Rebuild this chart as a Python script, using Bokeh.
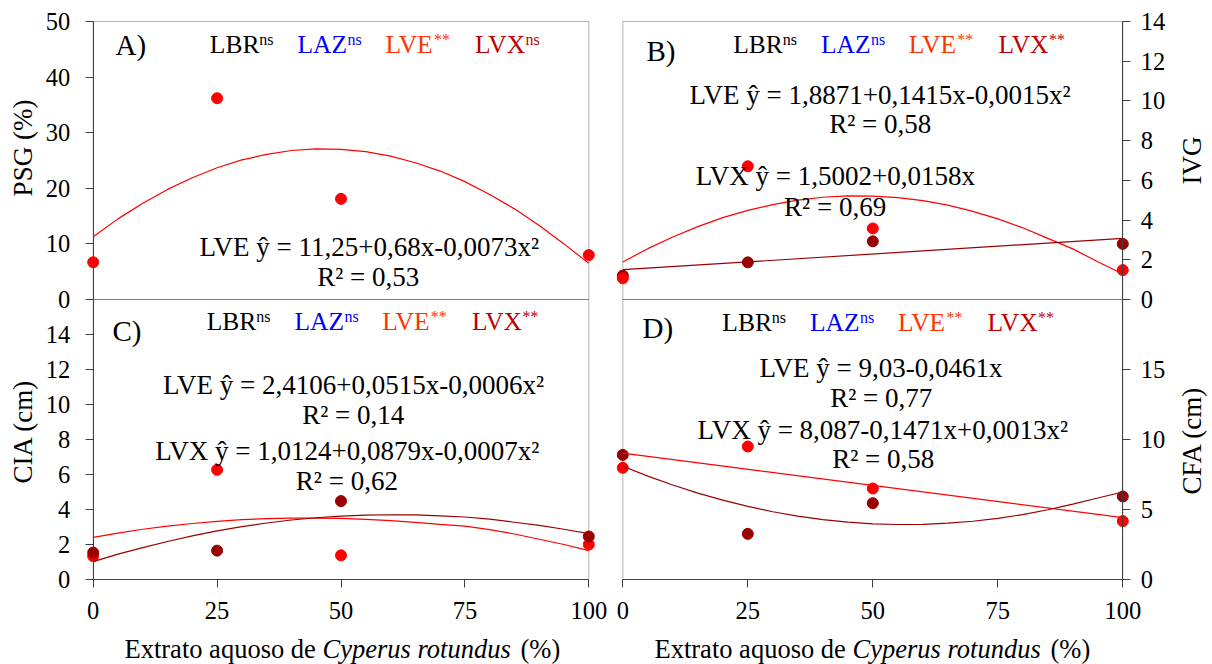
from bokeh.plotting import figure
from bokeh.layouts import row
from bokeh.models import Range1d, FixedTicker, Label, LinearAxis, BoxAnnotation
from bokeh.embed import file_html
from bokeh.resources import INLINE

# ---------------- data ----------------
x_pts = [0, 25, 50, 100]
x_fit = [0, 5, 10, 15, 20, 25, 30, 35, 40, 45, 50, 55, 60, 65, 70, 75, 80, 85, 90, 95, 100]
x_lin = [0, 100]
x_ticks = [0, 25, 50, 75, 100]

# A) PSG (%)
psg_lve = [6.7, 36.2, 18.1, 8.0]
psg_lve_fit = [11.3, 14.5, 17.3, 19.8, 21.9, 23.7, 25.1, 26.1, 26.8, 27.1, 27.0,
               26.6, 25.8, 24.6, 23.1, 21.2, 18.9, 16.3, 13.3, 10.0, 6.5]
psg_ticks = [0, 10, 20, 30, 40, 50]

# B) IVG
ivg_lve = [1.07, 6.71, 3.58, 1.48]
ivg_lvx = [1.20, 1.87, 2.93, 2.80]
ivg_lve_fit = [1.89, 2.56, 3.15, 3.67, 4.12, 4.49, 4.78, 5.00, 5.15, 5.22, 5.21,
               5.13, 4.98, 4.75, 4.44, 4.06, 3.61, 3.08, 2.55, 1.90, 1.28]
ivg_lvx_fit = [1.50, 3.08]
ivg_ticks = [0, 2, 4, 6, 8, 10, 12, 14]

# C) CIA (cm)
cia_lve = [1.33, 6.27, 1.38, 2.00]
cia_lvx = [1.54, 1.65, 4.48, 2.46]
cia_lve_fit = [2.41, 2.65, 2.87, 3.05, 3.20, 3.32, 3.42, 3.48, 3.51, 3.51, 3.49,
               3.44, 3.36, 3.26, 3.15, 3.05, 2.85, 2.60, 2.30, 2.00, 1.65]
cia_lvx_fit = [1.02, 1.45, 1.82, 2.17, 2.49, 2.78, 3.02, 3.23, 3.40, 3.53, 3.62,
               3.68, 3.70, 3.69, 3.64, 3.57, 3.45, 3.27, 3.09, 2.87, 2.62]
cia_ticks = [0, 2, 4, 6, 8, 10, 12, 14]

# D) CFA (cm)
cfa_lve = [7.98, 9.50, 6.50, 4.17]
cfa_lvx = [8.90, 3.26, 5.45, 5.93]
cfa_lve_fit = [9.03, 4.42]
cfa_lvx_fit = [8.09, 7.38, 6.75, 6.17, 5.67, 5.22, 4.84, 4.53, 4.28, 4.10, 3.98,
               3.93, 3.94, 4.02, 4.16, 4.37, 4.64, 4.98, 5.38, 5.82, 6.25]
cfa_ticks = [0, 5, 10, 15]

soils = ["LBR", "LAZ", "LVE", "LVX"]
sig_A = ["ns", "ns", "**", "ns"]
sig_B = ["ns", "ns", "**", "**"]
sig_C = ["ns", "ns", "**", "**"]
sig_D = ["ns", "ns", "**", "**"]

eq_A = ["LVE ŷ = 11,25+0,68x-0,0073x²", "R² = 0,53"]
eq_B = ["LVE ŷ = 1,8871+0,1415x-0,0015x²", "R² = 0,58",
        "LVX ŷ = 1,5002+0,0158x", "R² = 0,69"]
eq_C = ["LVE ŷ = 2,4106+0,0515x-0,0006x²", "R² = 0,14",
        "LVX ŷ = 1,0124+0,0879x-0,0007x²", "R² = 0,62"]
eq_D = ["LVE ŷ = 9,03-0,0461x", "R² = 0,77",
        "LVX ŷ = 8,087-0,1471x+0,0013x²", "R² = 0,58"]

x_title = ["Extrato aquoso de", "Cyperus rotundus", "(%)"]

# ---------------- style / layout ----------------
FONT = "Liberation Serif"
SOIL_COLORS = ["#000000", "#0000FF", "#FF3300", "#C00000"]
LVE_C = "#FF0000"
LVX_C = "#990000"
AX_C = "#404040"

H = 664
W1, W2 = 609, 603
COL2_LEFT = W1


def rng(v0, p0, v1, p1, c0, c1):
    """Range whose values v0, v1 fall at page pixels p0, p1; canvas spans c0..c1."""
    k = (p1 - p0) / (v1 - v0)
    return Range1d(start=v0 + (c0 - p0) / k, end=v0 + (c1 - p0) / k)


def style_axis(ax, standoff):
    ax.axis_line_color = AX_C
    ax.axis_line_width = 1
    ax.major_tick_line_color = AX_C
    ax.major_tick_out = 8
    ax.major_tick_in = 0
    ax.minor_tick_line_color = None
    ax.major_label_text_font = FONT
    ax.major_label_text_font_size = "24.5px"
    ax.major_label_text_color = "black"
    ax.major_label_standoff = standoff


def make_column(width, x_range, y_range, extra):
    p = figure(width=width, height=H, x_range=x_range, y_range=y_range,
               output_backend="svg", toolbar_location=None,
               x_axis_location=None, y_axis_location=None,
               min_border_left=0, min_border_right=0,
               min_border_top=0, min_border_bottom=0)
    p.grid.visible = False
    p.outline_line_color = None
    p.extra_y_ranges = extra
    ax = LinearAxis(fixed_location=0, bounds=(0, 100), ticker=FixedTicker(ticks=x_ticks))
    style_axis(ax, 14)
    p.add_layout(ax, "below")
    return p


def add_y_axis(p, rname, ticks, top, side, loc):
    kw = {} if rname == "default" else {"y_range_name": rname}
    ax = LinearAxis(fixed_location=loc, bounds=(0, top),
                    ticker=FixedTicker(ticks=ticks), **kw)
    style_axis(ax, 15 if side == "left" else 10)
    p.add_layout(ax, side)
    p.add_layout(BoxAnnotation(left=0, right=100, bottom=0, top=top,
                               fill_color=None, line_color="black",
                               line_width=1, level="underlay", **kw))


def put(p, left, px, py, text, size, color="black", align="left",
        style="normal", angle=0, baseline="alphabetic"):
    if baseline == "alphabetic":
        py = py - 0.33 * size   # bokeh places the box slightly low for alphabetic
    p.add_layout(Label(x=px - left, y=H - py,
                       x_units="screen", y_units="screen", text=text,
                       text_font=FONT, text_font_size=f"{size}px", text_color=color,
                       text_align=align, text_baseline=baseline,
                       text_font_style=style, angle=angle, angle_units="deg"))


def legend(p, left, x0, base, sig):
    item_off = [0, 87.7, 175.6, 265.2]
    sup_off = [49.5, 50, 48.5, 50.5]
    for i, name in enumerate(soils):
        put(p, left, x0 + item_off[i], base, name, 25.5, SOIL_COLORS[i])
        put(p, left, x0 + item_off[i] + sup_off[i], base - 8, sig[i], 16, SOIL_COLORS[i])


def x_axis_title(p, left, x0):
    put(p, left, x0, 657, x_title[0], 26.5)
    put(p, left, x0 + 198, 657, x_title[1], 26.5, style="italic")
    put(p, left, x0 + 396, 657, x_title[2], 26.5)


# ---------------- left column: A (top) and C (bottom) ----------------
L1 = 0
p1 = make_column(W1, rng(0, 92.7, 100, 588.3, 0, W1),
                 rng(0, 579, 16, 299, H, 0),
                 {"A": rng(0, 299, 50, 21, H, 0)})
add_y_axis(p1, "A", psg_ticks, 50, "left", 0)
add_y_axis(p1, "default", cia_ticks, 16, "left", 0)

p1.scatter(x_pts, psg_lve, y_range_name="A", size=11, fill_color=LVE_C, line_color=LVE_C)
p1.line(x_fit, psg_lve_fit, y_range_name="A", line_color=LVE_C, line_width=1.2)

p1.scatter(x_pts, cia_lve, size=11, fill_color=LVE_C, line_color=LVE_C)
p1.scatter(x_pts, cia_lvx, size=11, fill_color=LVX_C, line_color=LVX_C)
p1.line(x_fit, cia_lve_fit, line_color=LVE_C, line_width=1.2)
p1.line(x_fit, cia_lvx_fit, line_color=LVX_C, line_width=1.2)

put(p1, L1, 115, 53.7, "A)", 29)
put(p1, L1, 112, 340.4, "C)", 29)
legend(p1, L1, 209.3, 52, sig_A)
legend(p1, L1, 206.2, 329, sig_C)
put(p1, L1, 368.7, 255, eq_A[0], 27, align="center")
put(p1, L1, 367.7, 285, eq_A[1], 27, align="center")
put(p1, L1, 353.0, 393.3, eq_C[0], 27, align="center")
put(p1, L1, 352.7, 423.3, eq_C[1], 27, align="center")
put(p1, L1, 346.7, 459.3, eq_C[2], 27, align="center")
put(p1, L1, 346.4, 489.0, eq_C[3], 27, align="center")
put(p1, L1, 22.4, 147.5, "PSG (%)", 27, align="center", angle=90, baseline="middle")
put(p1, L1, 22.4, 430.8, "CIA (cm)", 27, align="center", angle=90, baseline="middle")
x_axis_title(p1, L1, 124)

# ---------------- right column: B (top) and D (bottom) ----------------
L2 = COL2_LEFT
p2 = make_column(W2, rng(0, 622.3, 100, 1122.3, L2, L2 + W2),
                 rng(0, 579, 20, 299, H, 0),
                 {"B": rng(0, 299, 14, 21, H, 0)})
add_y_axis(p2, "B", ivg_ticks, 14, "right", 100)
add_y_axis(p2, "default", cfa_ticks, 20, "right", 100)

p2.scatter(x_pts, ivg_lvx, y_range_name="B", size=11, fill_color=LVX_C, line_color=LVX_C)
p2.scatter(x_pts, ivg_lve, y_range_name="B", size=11, fill_color=LVE_C, line_color=LVE_C)
p2.line(x_fit, ivg_lve_fit, y_range_name="B", line_color=LVE_C, line_width=1.2)
p2.line(x_lin, ivg_lvx_fit, y_range_name="B", line_color=LVX_C, line_width=1.2)

p2.scatter(x_pts, cfa_lvx, size=11, fill_color=LVX_C, line_color=LVX_C)
p2.scatter(x_pts, cfa_lve, size=11, fill_color=LVE_C, line_color=LVE_C)
p2.line(x_lin, cfa_lve_fit, line_color=LVE_C, line_width=1.2)
p2.line(x_fit, cfa_lvx_fit, line_color=LVX_C, line_width=1.2)

put(p2, L2, 646, 60.4, "B)", 29)
put(p2, L2, 642, 337, "D)", 29)
legend(p2, L2, 732.7, 52, sig_B)
legend(p2, L2, 721.8, 330, sig_D)
put(p2, L2, 879.5, 103.0, eq_B[0], 27, align="center")
put(p2, L2, 879.7, 132.7, eq_B[1], 27, align="center")
put(p2, L2, 834.8, 184.3, eq_B[2], 27, align="center")
put(p2, L2, 834.6, 215.0, eq_B[3], 27, align="center")
put(p2, L2, 880.5, 376.7, eq_D[0], 27, align="center")
put(p2, L2, 880.7, 406.7, eq_D[1], 27, align="center")
put(p2, L2, 882.4, 438.3, eq_D[2], 27, align="center")
put(p2, L2, 882.8, 467.7, eq_D[3], 27, align="center")
put(p2, L2, 1191, 160, "IVG", 27, align="center", angle=90, baseline="middle")
put(p2, L2, 1191, 440, "CFA (cm)", 27, align="center", angle=90, baseline="middle")
x_axis_title(p2, L2, 654)

layout = row(p1, p2)
open("out.html", "w").write(file_html(layout, INLINE))
